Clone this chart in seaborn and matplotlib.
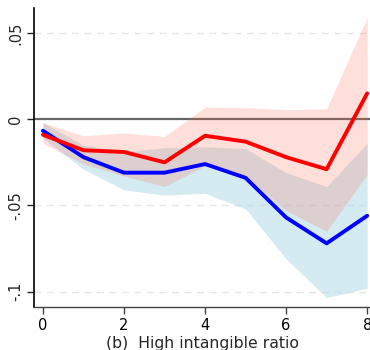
import numpy as np
import pandas as pd
import matplotlib
matplotlib.use("Agg")
import matplotlib.pyplot as plt
import seaborn as sns

horizon = [0, 1, 2, 3, 4, 5, 6, 7, 8]

red_coef = [-0.009, -0.018, -0.019, -0.025, -0.0096, -0.013, -0.022, -0.029, 0.015]
red_upper = [-0.002, -0.0096, -0.008, -0.010, 0.007, 0.0067, 0.0055, 0.006, 0.059]
red_lower = [-0.014, -0.026, -0.033, -0.039, -0.027, -0.033, -0.053, -0.065, -0.032]

blue_coef = [-0.0067, -0.022, -0.031, -0.031, -0.026, -0.034, -0.057, -0.072, -0.056]
blue_upper = [-0.002, -0.015, -0.019, -0.0165, -0.016, -0.017, -0.031, -0.039, -0.014]
blue_lower = [-0.011, -0.029, -0.041, -0.044, -0.043, -0.052, -0.081, -0.1035, -0.098]

yticks = [0.05, 0, -0.05, -0.1]
ytick_labels = [".05", "0", "-.05", "-.1"]
xticks = [0, 2, 4, 6, 8]
xlabel = "(b)  High intangible ratio"

sns.set_style("white")
plt.rcParams['font.family'] = ['DejaVu Sans']

fig = plt.figure(figsize=(3.7, 3.5), dpi=100)
ax = fig.add_axes([0.092, 0.123, 0.908, 0.854])

for y in [0.05, -0.05, -0.1]:
    ax.axhline(y, color="#e6e6e6", lw=1.0, ls=(0, (5, 4)), zorder=0)

ax.axhline(0, color="#666666", lw=1.6, zorder=0.5)

ax.fill_between(horizon, blue_lower, blue_upper, color="lightblue", alpha=0.5, lw=0, zorder=1)
ax.fill_between(horizon, red_lower, red_upper, color="tomato", alpha=0.2, lw=0, zorder=2)

df = pd.DataFrame({"h": horizon * 2,
                   "coef": blue_coef + red_coef,
                   "grp": ["blue"] * 9 + ["red"] * 9})
sns.lineplot(data=df, x="h", y="coef", hue="grp", palette={"blue": "#0000ff", "red": "#ff0000"},
             lw=2.8, legend=False, ax=ax, zorder=4)

ax.set_xlim(-0.22, 8.07)
ax.set_ylim(-0.1089, 0.0645)
ax.set_xticks(xticks)
ax.set_yticks(yticks)
ax.set_yticklabels(ytick_labels, rotation=90, va="center")
ax.tick_params(axis="both", which="major", length=5, width=1, labelsize=10.5, direction="out",
               left=True, bottom=True, pad=3)
ax.tick_params(axis="x", colors="#444444", labelcolor="black")
ax.set_xlabel(xlabel, fontsize=11.3, labelpad=2)
ax.set_ylabel("")

for s in ["top", "right"]:
    ax.spines[s].set_visible(False)
ax.spines["left"].set_color("black")
ax.spines["left"].set_linewidth(1.2)
ax.spines["bottom"].set_color("#444444")
ax.spines["bottom"].set_linewidth(1.0)

fig.savefig("out.png", dpi=100)
